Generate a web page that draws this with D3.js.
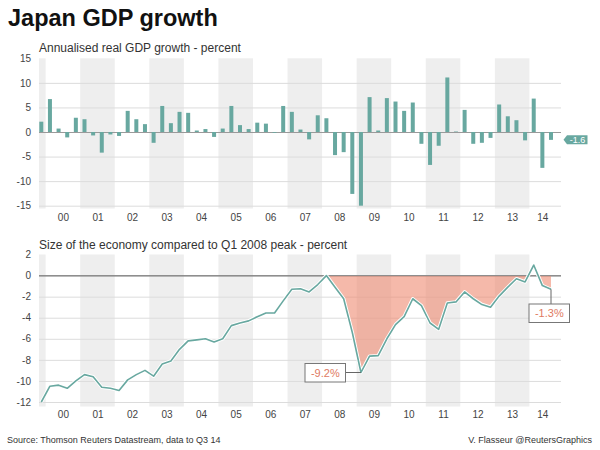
<!DOCTYPE html>
<html><head><meta charset="utf-8">
<script src="https://cdnjs.cloudflare.com/ajax/libs/d3/7.8.5/d3.min.js"></script>
<style>
body{margin:0;background:#fff;}
text{font-family:"Liberation Sans",Arial,sans-serif;}
</style></head>
<body><svg id="c" width="600" height="450"></svg>
<script>
// ---- DATA ----
const quarters = ["Q4 99",
 "Q1 00","Q2 00","Q3 00","Q4 00","Q1 01","Q2 01","Q3 01","Q4 01",
 "Q1 02","Q2 02","Q3 02","Q4 02","Q1 03","Q2 03","Q3 03","Q4 03",
 "Q1 04","Q2 04","Q3 04","Q4 04","Q1 05","Q2 05","Q3 05","Q4 05",
 "Q1 06","Q2 06","Q3 06","Q4 06","Q1 07","Q2 07","Q3 07","Q4 07",
 "Q1 08","Q2 08","Q3 08","Q4 08","Q1 09","Q2 09","Q3 09","Q4 09",
 "Q1 10","Q2 10","Q3 10","Q4 10","Q1 11","Q2 11","Q3 11","Q4 11",
 "Q1 12","Q2 12","Q3 12","Q4 12","Q1 13","Q2 13","Q3 13","Q4 13",
 "Q1 14","Q2 14","Q3 14"];
const growth = [2.1,
 6.7,0.7,-1.1,2.9, 2.6,-0.7,-4.2,-0.5,
 -0.8,4.3,2.6,1.6, -2.2,5.3,1.8,4.1,
 3.9,0.3,0.6,-1.0, 0.7,5.3,1.4,0.6,
 1.9,1.7,-0.15,5.3, 4.1,0.5,-1.5,3.4,
 2.8,-4.7,-4.1,-12.6, -15.0,7.1,0.3,6.9,
 6.2,4.3,6.0,-2.4, -6.7,-2.8,11.1,0.1,
 4.5,-2.4,-2.2,-1.2, 5.6,3.2,2.4,-1.7,
 6.8,-7.3,-1.6];
const level = [-12.0,
 -10.5,-10.4,-10.7,-10.0, -9.4,-9.6,-10.6,-10.7,
 -10.9,-9.9,-9.4,-9.0, -9.55,-8.4,-8.1,-7.0,
 -6.2,-6.1,-6.0,-6.3, -6.0,-4.75,-4.5,-4.3,
 -3.9,-3.55,-3.55,-2.4, -1.3,-1.25,-1.55,-0.85,
 0.0,-1.1,-2.2,-5.4, -9.2,-7.65,-7.6,-6.0,
 -4.65,-3.9,-2.2,-2.85, -4.5,-5.1,-2.6,-2.5,
 -1.55,-2.2,-2.75,-3.0, -1.95,-1.1,-0.3,-0.6,
 1.0,-0.95,-1.3];
const years = [1999,2000,2001,2002,2003,2004,2005,2006,2007,2008,2009,2010,2011,2012,2013,2014];
const yearLabels = ["99","00","01","02","03","04","05","06","07","08","09","10","11","12","13","14"];
const topTicks = [15,10,5,0,-5,-10,-15];
const bottomTicks = [2,0,-2,-4,-6,-8,-10,-12];
const troughLabel = "-9.2%";
const lastLevelLabel = "-1.3%";
const lastGrowthLabel = "-1.6";

// ---- LAYOUT ----
const svg = d3.select("#c");
svg.append("rect").attr("width",600).attr("height",450).attr("fill","#fff");
const L = 39, R = 561;
const x = d3.scaleLinear().domain([0, quarters.length-1]).range([41.3, 551]);
const qw = x(1)-x(0);
const TEAL = "#68a8a0";

// index of Q1 of a year (Q4 99 is index 0)
const q1idx = y => (y-2000)*4+1;

function drawPanel(g, y, ticks, bandBottom, labelY, zeroColor){
  // bands (odd years)
  years.forEach((yr,i)=>{
    if(yr%2===1){
      const x0 = Math.max(L, x(q1idx(yr)-0.5));
      const x1 = Math.min(R, x(q1idx(yr)+3.5));
      g.append("rect").attr("x",x0).attr("y",y(ticks[0]))
        .attr("width",x1-x0).attr("height",bandBottom-y(ticks[0])).attr("fill","#eeeeee");
    }
  });
  // grid + y labels via axis
  const ax = d3.axisLeft(y).tickValues(ticks).tickSize(-(R-L)).tickPadding(8).tickFormat(d=>d);
  const ag = g.append("g").attr("transform",`translate(${L},0)`).call(ax);
  ag.select(".domain").remove();
  ag.selectAll(".tick line").attr("stroke",d=>d===0?zeroColor:"#dcdcdc")
    .attr("stroke-width",1).attr("display",d=>d===ticks[0]?"none":null);
  ag.selectAll(".tick text").attr("fill","#444").style("font-size","10px")
    .style("font-family","'Liberation Sans',Arial,sans-serif");
  // x labels
  const yrs = years.filter(yr=>yr>=2000);
  const centers = yrs.map(yr=>{
    const a = Math.max(0,q1idx(yr)), b = Math.min(quarters.length-1,q1idx(yr)+3);
    return (a+b)/2;
  });
  const xa = d3.axisBottom(x).tickValues(centers).tickSize(0).tickPadding(0)
    .tickFormat((d,i)=>yearLabels[years.indexOf(yrs[i])]);
  const xg = g.append("g").attr("transform",`translate(0,${labelY})`).call(xa);
  xg.select(".domain").remove();
  xg.selectAll(".tick text").attr("fill","#444").attr("dy","0").attr("y",0).style("font-size","10px")
    .style("font-family","'Liberation Sans',Arial,sans-serif");
}

// Title
svg.append("text").attr("x",8).attr("y",26).text("Japan GDP growth")
  .style("font-size","23.5px").style("font-weight","bold").attr("fill","#111");

// ---- TOP PANEL ----
const yT = d3.scaleLinear().domain([-15,15]).range([205.7,58.3]);
svg.append("text").attr("x",39).attr("y",52).text("Annualised real GDP growth - percent")
  .style("font-size","12px").attr("fill","#333");
const gT = svg.append("g");
drawPanel(gT, yT, topTicks, 208.5, 220.5, "#9a9a9a");
gT.selectAll("rect.bar").data(growth).join("rect").attr("class","bar")
  .attr("x",(d,i)=>x(i)-2).attr("width",4)
  .attr("y",d=>yT(Math.max(0,d))).attr("height",d=>Math.abs(yT(d)-yT(0)))
  .attr("fill",TEAL);
// last value tag
const lastG = growth[growth.length-1];
const ty = yT(lastG);
gT.append("path").attr("d",`M563.5,${ty} L567,${ty-4.5} L587.5,${ty-4.5} L587.5,${ty+4.5} L567,${ty+4.5} Z`)
  .attr("fill",TEAL);
gT.append("text").attr("x",577.5).attr("y",ty+3.3).attr("text-anchor","middle")
  .text(lastGrowthLabel).style("font-size","9px").attr("fill","#fff");

// ---- BOTTOM PANEL ----
const yB = d3.scaleLinear().domain([-12,2]).range([402,254.5]);
svg.append("text").attr("x",39).attr("y",248.5).text("Size of the economy compared to Q1 2008 peak - percent")
  .style("font-size","12px").attr("fill","#333");
const gB = svg.append("g");
drawPanel(gB, yB, bottomTicks, 406.5, 418, "#8a8a8a");

const peakIdx = level.indexOf(d3.max(level.slice(0,40)));
svg.append("clipPath").attr("id","below").append("rect")
  .attr("x",0).attr("y",yB(0)).attr("width",600).attr("height",200);
const area = d3.area().x((d,i)=>x(i+peakIdx)).y0(yB(0)).y1(d=>yB(d));
gB.append("path").datum(level.slice(peakIdx)).attr("d",area)
  .attr("fill","#ee8a72").attr("fill-opacity",0.6).attr("clip-path","url(#below)");
gB.append("line").attr("x1",L).attr("x2",R).attr("y1",yB(0)).attr("y2",yB(0))
  .attr("stroke","#8a8a8a").attr("stroke-width",1);

const line = d3.line().x((d,i)=>x(i)).y(d=>yB(d));
gB.append("path").datum(level).attr("d",line).attr("fill","none")
  .attr("stroke","#fff").attr("stroke-width",3.5).attr("stroke-linejoin","round");
gB.append("path").datum(level).attr("d",line).attr("fill","none")
  .attr("stroke",TEAL).attr("stroke-width",1.6).attr("stroke-linejoin","round");

// trough callout
const tIdx = level.indexOf(d3.min(level.slice(30)));
const tx = x(tIdx), tyB = yB(level[tIdx]);
gB.append("line").attr("x1",345.5).attr("x2",tx).attr("y1",tyB).attr("y2",tyB).attr("stroke","#666");
gB.append("rect").attr("x",305).attr("y",tyB-9).attr("width",40.5).attr("height",18.5)
  .attr("fill","#fff").attr("stroke","#777");
gB.append("text").attr("x",325.3).attr("y",tyB+4).attr("text-anchor","middle")
  .text(troughLabel).style("font-size","11px").attr("fill","#e07a62");

// last callout
const li = level.length-1;
const lx = x(li), ly = yB(level[li]);
gB.append("line").attr("x1",lx).attr("x2",lx).attr("y1",ly).attr("y2",304).attr("stroke","#666");
gB.append("rect").attr("x",529).attr("y",304).attr("width",40.5).attr("height",18.5)
  .attr("fill","#fff").attr("stroke","#777");
gB.append("text").attr("x",549.3).attr("y",317).attr("text-anchor","middle")
  .text(lastLevelLabel).style("font-size","11px").attr("fill","#e07a62");

// Footer
svg.append("text").attr("x",7).attr("y",443).text("Source: Thomson Reuters Datastream, data to Q3 14")
  .style("font-size","9px").attr("fill","#333");
svg.append("text").attr("x",592).attr("y",443).attr("text-anchor","end").text("V. Flasseur @ReutersGraphics")
  .style("font-size","9px").attr("fill","#333");
</script></body></html>
